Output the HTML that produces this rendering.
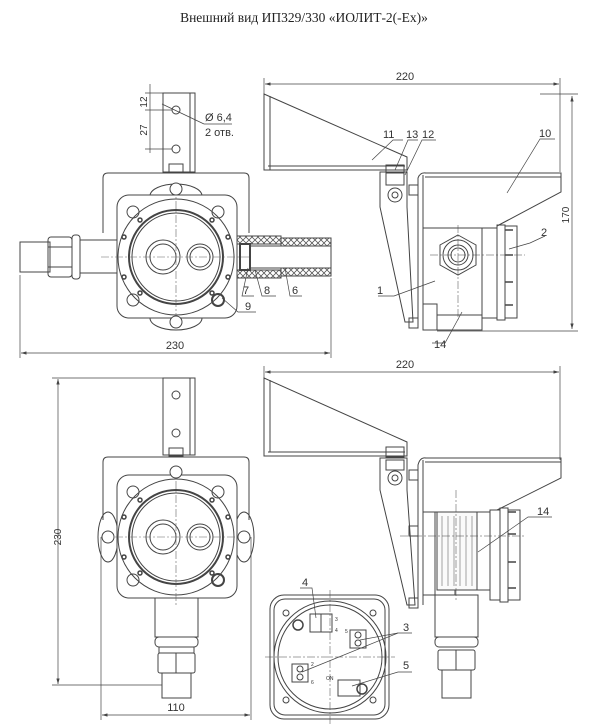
<!DOCTYPE html>
<html><head><meta charset="utf-8"><style>
html,body{margin:0;padding:0;background:#fff;width:600px;height:728px;overflow:hidden}
svg{display:block}
text{font-family:"Liberation Sans",sans-serif;fill:#333}
</style></head><body>
<svg width="600" height="728" viewBox="0 0 600 728" xmlns="http://www.w3.org/2000/svg">
<defs>
<marker id="ar" viewBox="0 0 10 6" refX="10" refY="3" markerWidth="8" markerHeight="5" orient="auto-start-reverse"><path d="M0,0L10,3L0,6z" fill="#444"/></marker>
<pattern id="hat" width="6" height="6" patternUnits="userSpaceOnUse"><path d="M0,3L3,0L6,3L3,6z" fill="none" stroke="#555" stroke-width="0.8"/></pattern>
<g id="front" fill="none" stroke="#444" stroke-width="1">
  <rect x="-59" y="-62" width="120" height="123" rx="12" fill="#fff"/>
  <circle cx="0" cy="0" r="58"/>
  <circle cx="0" cy="0" r="47" stroke-width="2"/>
  <circle cx="0" cy="0" r="44"/>
  <circle cx="-13" cy="0" r="17"/><circle cx="-13" cy="0" r="13"/>
  <circle cx="24" cy="0" r="13"/><circle cx="24" cy="0" r="10"/>
  <circle cx="-43" cy="-45" r="6"/><circle cx="42" cy="-45" r="6"/>
  <circle cx="-43" cy="43" r="6"/><circle cx="42" cy="43" r="6" stroke-width="2"/>
  <g stroke="#666" stroke-width="0.6" stroke-dasharray="8,2,2,2">
   <line x1="-75" y1="0" x2="75" y2="0"/><line x1="0" y1="-70" x2="0" y2="70"/>
  </g>
  <g stroke-width="1.5"><circle cx="-36" cy="-37" r="2"/><circle cx="36" cy="-37" r="2"/><circle cx="-36" cy="36" r="2"/><circle cx="36" cy="36" r="2"/><circle cx="-52" cy="-20" r="2"/><circle cx="52" cy="-20" r="2"/><circle cx="-52" cy="20" r="2"/><circle cx="52" cy="20" r="2"/></g>
</g>
</defs>

<text x="304" y="22" text-anchor="middle" style="font-family:'Liberation Serif',serif;font-size:13.5px;fill:#222">Внешний вид ИП329/330 «ИОЛИТ-2(-Ex)»</text>

<!-- ===== TOP LEFT VIEW ===== -->
<g fill="none" stroke="#444" stroke-width="1">
  <rect x="163" y="93" width="32" height="79"/><line x1="190" y1="93" x2="190" y2="172"/>
  <circle cx="176" cy="110" r="4"/><circle cx="176" cy="149" r="4"/>
  <rect x="169" y="164" width="14" height="8"/>
  <path d="M103,233 V178 Q103,173 108,173 H244 Q249,173 249,178 V233"/>
  <ellipse cx="176" cy="196" rx="26" ry="12"/><ellipse cx="176" cy="318" rx="26" ry="12"/>
  <!-- left pipe -->
  <rect x="20" y="242" width="30" height="30"/>
  <rect x="48" y="237" width="24" height="40" rx="3"/><line x1="48" y1="247" x2="72" y2="247"/><line x1="48" y1="267" x2="72" y2="267"/>
  <rect x="72" y="235" width="8" height="44" rx="3"/>
  <rect x="80" y="240" width="38" height="33"/>
  <!-- right gland -->
  <rect x="237" y="236" width="44" height="8" fill="url(#hat)"/>
  <rect x="237" y="270" width="44" height="8" fill="url(#hat)"/>
  <rect x="281" y="238" width="50" height="8" fill="url(#hat)"/>
  <rect x="281" y="268" width="50" height="8" fill="url(#hat)"/>
  <rect x="240" y="244" width="10" height="26" stroke-width="2"/>
  <line x1="250" y1="246" x2="331" y2="246"/><line x1="250" y1="268" x2="331" y2="268"/><line x1="331" y1="238" x2="331" y2="276"/>
</g>
<use href="#front" x="176" y="257"/>
<g fill="none" stroke="#444" stroke-width="1"><circle cx="176" cy="189" r="6" fill="#fff"/><circle cx="176" cy="322" r="6" fill="#fff"/></g>
<g stroke="#444" stroke-width="0.7" fill="none">
  <line x1="20" y1="275" x2="20" y2="358"/><line x1="331" y1="278" x2="331" y2="358"/>
  <line x1="21" y1="353" x2="330" y2="353" marker-start="url(#ar)" marker-end="url(#ar)"/>
  <line x1="145" y1="93" x2="163" y2="93"/><line x1="145" y1="110" x2="172" y2="110"/><line x1="145" y1="149" x2="172" y2="149"/>
  <line x1="150" y1="84" x2="150" y2="153"/>
  <line x1="162" y1="104" x2="204" y2="124"/><line x1="204" y1="124" x2="232" y2="124"/>
  <polyline points="248,268 242,296 254,296"/><polyline points="255,270 262,296 276,296"/><polyline points="285,268 290,296 302,296"/>
  <polyline points="222,298 238,312 256,312"/>
</g>
<g font-size="11">
  <text x="175" y="353" text-anchor="middle" dy="-4">230</text>
  <text x="243" y="294">7</text><text x="264" y="294">8</text><text x="292" y="294">6</text><text x="245" y="310">9</text>
  <text x="205" y="121">Ø 6,4</text><text x="205" y="136">2 отв.</text>
  <text transform="translate(147,102) rotate(-90)" text-anchor="middle" font-size="10">12</text>
  <text transform="translate(147,130) rotate(-90)" text-anchor="middle" font-size="10">27</text>
</g>

<!-- ===== TOP RIGHT VIEW ===== -->
<g fill="none" stroke="#444" stroke-width="1">
  <line x1="264" y1="78" x2="264" y2="95" stroke-width="0.7"/><line x1="560" y1="78" x2="560" y2="172" stroke-width="0.7"/>
  <line x1="265" y1="84" x2="559" y2="84" stroke-width="0.7" marker-start="url(#ar)" marker-end="url(#ar)"/>
  <path d="M264,94 L407,157 L407,170 L264,170 Z"/><line x1="270" y1="96" x2="270" y2="170"/><line x1="268" y1="166" x2="405" y2="166"/>
  <path d="M380,172 H407 V207 L413,322 H405 L380,207 Z"/>
  <rect x="386" y="165" width="18" height="8"/><rect x="386" y="173" width="18" height="12"/>
  <circle cx="395" cy="195" r="7"/><circle cx="395" cy="195" r="3"/>
  <rect x="409" y="185" width="9" height="10"/><rect x="409" y="318" width="9" height="10"/>
  <path d="M418,328 V178 Q420,172 426,173"/><line x1="423" y1="175" x2="423" y2="328"/>
  <path d="M425,173 H561 V192 L497,226"/><line x1="425" y1="177" x2="561" y2="177"/>
  <rect x="423" y="228" width="59" height="102"/>
  <rect x="423" y="304" width="14" height="26"/>
  <polygon points="458,235 476,245 476,265 458,275 440,265 440,245"/>
  <circle cx="458" cy="255" r="15"/><circle cx="458" cy="255" r="10"/><circle cx="458" cy="255" r="7"/>
  <rect x="482" y="228" width="15" height="90"/><rect x="497" y="225" width="8" height="95"/><rect x="505" y="226" width="12" height="92"/>
  <g stroke-width="1.5"><line x1="505" y1="230" x2="513" y2="230"/><line x1="505" y1="255" x2="513" y2="255"/><line x1="505" y1="282" x2="513" y2="282"/><line x1="505" y1="305" x2="513" y2="305"/></g>
  <line x1="437" y1="315" x2="482" y2="315"/>
  <line x1="458" y1="225" x2="458" y2="320" stroke-width="0.5" stroke-dasharray="8,2,2,2"/>
  <line x1="430" y1="255" x2="525" y2="255" stroke-width="0.5" stroke-dasharray="8,2,2,2"/>
</g>
<g stroke="#444" stroke-width="0.7" fill="none">
  <line x1="540" y1="94" x2="578" y2="94"/><line x1="437" y1="331" x2="578" y2="331"/>
  <line x1="572" y1="96" x2="572" y2="329" marker-start="url(#ar)" marker-end="url(#ar)"/>
  <polyline points="372,160 393,140 403,140"/><polyline points="395,170 408,140 418,140"/><polyline points="405,175 422,140 436,140"/>
  <polyline points="507,193 540,139 555,139"/><polyline points="509,249 530,243 545,236"/>
  <polyline points="435,281 394,296 378,296"/><polyline points="462,312 445,343 432,343"/>
</g>
<g font-size="11">
  <text x="405" y="80" text-anchor="middle">220</text>
  <text x="383" y="138">11</text><text x="406" y="138">13</text><text x="422" y="138">12</text><text x="539" y="137">10</text>
  <text x="541" y="236">2</text><text x="377" y="294">1</text><text x="434" y="348">14</text>
  <text transform="translate(569,215) rotate(-90)" text-anchor="middle" font-size="10">170</text>
</g>

<!-- ===== BOTTOM LEFT VIEW ===== -->
<g fill="none" stroke="#444" stroke-width="1">
  <rect x="163" y="378" width="32" height="77"/><line x1="190" y1="378" x2="190" y2="455"/>
  <circle cx="176" cy="395" r="4"/><circle cx="176" cy="433" r="4"/>
  <rect x="169" y="448" width="14" height="8"/>
  <path d="M103,520 V462 Q103,457 108,457 H244 Q249,457 249,462 V520"/>
  <ellipse cx="108" cy="537" rx="10" ry="25"/><ellipse cx="244" cy="537" rx="10" ry="25"/>
  <rect x="155" y="595" width="43" height="42"/>
  <rect x="155" y="637" width="43" height="10" rx="4"/>
  <rect x="159" y="647" width="35" height="6"/>
  <rect x="158" y="653" width="37" height="20" rx="2"/><line x1="176" y1="653" x2="176" y2="673"/>
  <rect x="162" y="673" width="29" height="25"/>
</g>
<use href="#front" x="176" y="537"/>
<g fill="none" stroke="#444" stroke-width="1"><circle cx="108" cy="537" r="6" fill="#fff"/><circle cx="244" cy="537" r="6" fill="#fff"/><circle cx="176" cy="472" r="6" fill="#fff"/></g>
<g stroke="#444" stroke-width="0.7" fill="none">
  <line x1="52" y1="378" x2="163" y2="378"/><line x1="52" y1="685" x2="162" y2="685"/>
  <line x1="58" y1="379" x2="58" y2="684" marker-start="url(#ar)" marker-end="url(#ar)"/>
  <line x1="101" y1="537" x2="101" y2="720"/><line x1="251" y1="537" x2="251" y2="720"/>
  <line x1="102" y1="715" x2="250" y2="715" marker-start="url(#ar)" marker-end="url(#ar)"/>
</g>
<g font-size="11">
  <text x="176" y="711" text-anchor="middle">110</text>
  <text transform="translate(61,537) rotate(-90)" text-anchor="middle" font-size="10">230</text>
</g>

<!-- ===== BOTTOM RIGHT VIEW ===== -->
<g fill="none" stroke="#444" stroke-width="1">
  <line x1="264" y1="366" x2="264" y2="380" stroke-width="0.7"/><line x1="560" y1="366" x2="560" y2="460" stroke-width="0.7"/>
  <line x1="265" y1="372" x2="559" y2="372" stroke-width="0.7" marker-start="url(#ar)" marker-end="url(#ar)"/>
  <path d="M264,378 L407,442 L407,456 L264,456 Z"/><line x1="270" y1="380" x2="270" y2="452"/><line x1="268" y1="452" x2="405" y2="452"/>
  <path d="M380,458 H407 V490 L415,605 H407 L380,490 Z"/>
  <rect x="386" y="447" width="18" height="10"/><rect x="386" y="460" width="18" height="10"/>
  <circle cx="395" cy="478" r="7"/><circle cx="395" cy="478" r="3"/>
  <rect x="409" y="470" width="9" height="10"/><rect x="409" y="526" width="9" height="10"/><rect x="409" y="598" width="9" height="10"/>
  <path d="M418,608 V465 Q420,457 426,458"/><line x1="423" y1="460" x2="423" y2="605"/>
  <path d="M425,458 H561 V478 L497,510"/><line x1="425" y1="462" x2="561" y2="462"/>
  <path d="M423,512 H490 V590 H455 V595 H423 Z"/>
  <line x1="435" y1="512" x2="435" y2="595"/><rect x="437" y="512" width="40" height="78" fill="#fafafa"/>
  <g stroke="#666" stroke-width="0.6"><line x1="442" y1="516" x2="442" y2="586"/><line x1="448" y1="516" x2="448" y2="586"/><line x1="454" y1="516" x2="454" y2="586"/><line x1="460" y1="516" x2="460" y2="586"/><line x1="466" y1="516" x2="466" y2="586"/><line x1="472" y1="516" x2="472" y2="586"/></g>
  <rect x="490" y="510" width="10" height="90"/><rect x="500" y="508" width="8" height="94"/><rect x="508" y="510" width="12" height="90"/>
  <g stroke-width="1.5"><line x1="508" y1="512" x2="516" y2="512"/><line x1="508" y1="534" x2="516" y2="534"/><line x1="508" y1="562" x2="516" y2="562"/><line x1="508" y1="588" x2="516" y2="588"/></g>
  <rect x="435" y="595" width="43" height="42"/>
  <rect x="435" y="637" width="43" height="10" rx="4"/>
  <rect x="438" y="650" width="37" height="20" rx="2"/><line x1="456" y1="650" x2="456" y2="670"/>
  <rect x="442" y="670" width="29" height="28"/>
  <line x1="456" y1="490" x2="456" y2="600" stroke-width="0.5" stroke-dasharray="8,2,2,2"/>
  <line x1="400" y1="536" x2="525" y2="536" stroke-width="0.5" stroke-dasharray="8,2,2,2"/>
  <!-- front panel -->
  <rect x="270" y="595" width="119" height="124" rx="14"/>
  <rect x="274" y="599" width="111" height="116" rx="11"/>
  <circle cx="330" cy="657" r="56"/><circle cx="330" cy="657" r="52"/>
  <circle cx="286" cy="613" r="3"/><circle cx="373" cy="613" r="3"/><circle cx="286" cy="700" r="3"/><circle cx="373" cy="700" r="3"/>
  <circle cx="298" cy="625" r="5" stroke-width="1.5"/><circle cx="362" cy="689" r="5" stroke-width="1.5"/>
  <rect x="310" y="614" width="22" height="18"/><line x1="321" y1="614" x2="321" y2="632"/>
  <rect x="350" y="630" width="16" height="18"/><circle cx="358" cy="635" r="3"/><circle cx="358" cy="643" r="3"/>
  <rect x="292" y="664" width="16" height="18"/><circle cx="300" cy="669" r="3"/><circle cx="300" cy="677" r="3"/>
  <rect x="338" y="680" width="22" height="16"/>
  <line x1="330" y1="590" x2="330" y2="725" stroke-width="0.5" stroke-dasharray="8,2,2,2"/>
  <line x1="265" y1="657" x2="395" y2="657" stroke-width="0.5" stroke-dasharray="8,2,2,2"/>
</g>
<g stroke="#444" stroke-width="0.7" fill="none">
  <polyline points="478,552 528,517 552,517"/>
  <polyline points="316,618 312,588 300,588"/>
  <polyline points="360,640 398,633 412,633"/><polyline points="302,672 398,633"/>
  <polyline points="352,686 398,672 412,672"/>
</g>
<g font-size="11">
  <text x="405" y="368" text-anchor="middle">220</text>
  <text x="537" y="515">14</text><text x="302" y="586">4</text><text x="403" y="631">3</text><text x="403" y="669">5</text>
  <text x="335" y="621" font-size="5">3</text><text x="335" y="632" font-size="5">4</text><text x="345" y="633" font-size="5">5</text>
  <text x="311" y="666" font-size="5">2</text><text x="311" y="684" font-size="5">6</text><text x="326" y="680" font-size="5">ON</text>
</g>
</svg>
</body></html>
